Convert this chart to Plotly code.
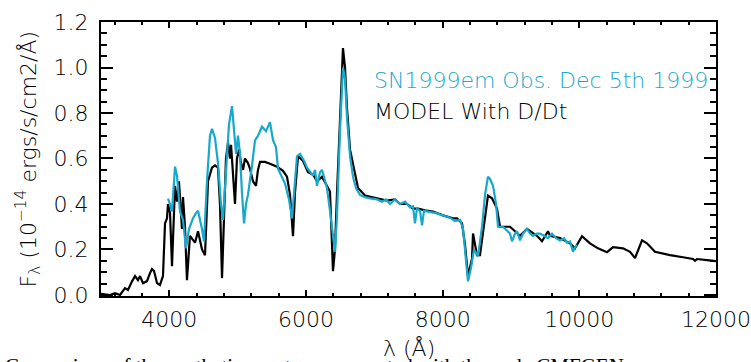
import plotly.graph_objects as go

# Model spectrum (black): wavelength (Angstrom) and flux (1e-14 erg/s/cm2/A)
model_wave = [3000, 3132, 3205, 3278, 3351, 3395, 3454, 3498, 3541, 3571, 3615, 3673, 3717, 3746,
              3776, 3820, 3863, 3907, 3937, 3966, 3980, 4010, 4039, 4083, 4112, 4141, 4185, 4200,
              4229, 4258, 4302, 4346, 4376, 4420, 4478, 4522, 4566, 4624, 4668, 4712, 4741, 4771,
              4800, 4829, 4859, 4888, 4903, 4932, 4961, 4990, 5020, 5049, 5078, 5107, 5151, 5180,
              5224, 5268, 5297, 5327, 5400, 5473, 5576, 5663, 5722, 5766, 5810, 5839, 5883, 5956,
              6029, 6102, 6161, 6234, 6307, 6351, 6395, 6424, 6454, 6497, 6541, 6571, 6600, 6644,
              6717, 6761, 6863, 7039, 7185, 7302, 7376, 7478, 7566, 7639, 7741, 7859, 8005, 8151,
              8210, 8283, 8327, 8371, 8430, 8444, 8473, 8502, 8546, 8620, 8663, 8722, 8795, 8839,
              8912, 8985, 9059, 9132, 9234, 9320, 9380, 9454, 9541, 9571, 9717, 9863, 9937, 10039,
              10156, 10273, 10405, 10493, 10639, 10742, 10815, 10917, 10990, 11107, 11327, 11517,
              11663, 11693, 11722, 11868, 12000]
model_flux = [0.005, 0.0, 0.008, 0.0, 0.03, 0.022, 0.06, 0.083, 0.065, 0.083, 0.052, 0.061, 0.096, 0.114,
              0.105, 0.052, 0.044, 0.083, 0.315, 0.337, 0.40, 0.36, 0.127, 0.48, 0.41, 0.50, 0.29, 0.43,
              0.30, 0.065, 0.26, 0.24, 0.23, 0.28, 0.20, 0.175, 0.50, 0.56, 0.57, 0.56, 0.40, 0.074,
              0.30, 0.60, 0.67, 0.60, 0.66, 0.52, 0.40, 0.60, 0.64, 0.58, 0.55, 0.60, 0.58, 0.555,
              0.50, 0.48, 0.55, 0.585, 0.585, 0.577, 0.564, 0.546, 0.52, 0.44, 0.258, 0.45, 0.61, 0.59,
              0.54, 0.53, 0.50, 0.52, 0.48, 0.455, 0.105, 0.20, 0.45, 0.80, 1.085, 1.00, 0.82, 0.64,
              0.525, 0.47, 0.437, 0.424, 0.415, 0.42, 0.40, 0.40, 0.38, 0.38, 0.372, 0.367, 0.35, 0.337,
              0.337, 0.315, 0.22, 0.083, 0.16, 0.27, 0.22, 0.175, 0.175, 0.35, 0.437, 0.425, 0.38, 0.30,
              0.30, 0.30, 0.28, 0.26, 0.29, 0.27, 0.26, 0.236, 0.28, 0.26, 0.25, 0.227, 0.205, 0.258,
              0.227, 0.205, 0.188, 0.21, 0.205, 0.19, 0.162, 0.24, 0.227, 0.19, 0.175, 0.166,
              0.158, 0.15, 0.158, 0.153, 0.149]

# Observed spectrum SN1999em, Dec 5th 1999 (cyan)
obs_wave = [3980, 4010, 4039, 4083, 4112, 4156, 4200, 4244, 4288, 4346, 4390, 4420, 4478, 4507,
            4551, 4595, 4624, 4668, 4712, 4756, 4785, 4829, 4873, 4917, 4946, 4976, 5005, 5034,
            5063, 5093, 5122, 5151, 5210, 5254, 5298, 5356, 5415, 5473, 5517, 5561, 5590, 5649,
            5693, 5751, 5795, 5839, 5868, 5912, 5971, 6015, 6059, 6102, 6132, 6161, 6205, 6234,
            6263, 6307, 6351, 6395, 6425, 6454, 6497, 6541, 6571, 6600, 6644, 6688, 6732, 6790,
            6863, 6937, 7039, 7112, 7171, 7229, 7302, 7376, 7449, 7522, 7566, 7595, 7624, 7668,
            7698, 7727, 7815, 7902, 8005, 8107, 8180, 8254, 8298, 8342, 8371, 8415, 8459, 8517,
            8576, 8620, 8663, 8693, 8737, 8781, 8810, 8883, 8942, 8985, 9015, 9059, 9088, 9132,
            9176, 9234, 9278, 9320, 9380, 9424, 9483, 9541, 9600, 9659, 9717, 9776, 9820, 9863,
            9907, 9937, 9966]
obs_flux = [0.424, 0.40, 0.367, 0.564, 0.525, 0.367, 0.33, 0.205, 0.29, 0.337, 0.36, 0.37, 0.29, 0.236,
            0.50, 0.70, 0.73, 0.69, 0.58, 0.40, 0.33, 0.55, 0.75, 0.83, 0.72, 0.62, 0.70, 0.62,
            0.45, 0.315, 0.40, 0.44, 0.57, 0.68, 0.70, 0.74, 0.72, 0.76, 0.68, 0.65, 0.555, 0.52,
            0.49, 0.42, 0.337, 0.50, 0.61, 0.62, 0.59, 0.56, 0.54, 0.525, 0.55, 0.48, 0.54, 0.55,
            0.52, 0.47, 0.37, 0.25, 0.19, 0.35, 0.72, 1.00, 0.95, 0.78, 0.61, 0.52, 0.47, 0.44,
            0.43, 0.425, 0.42, 0.41, 0.42, 0.40, 0.42, 0.40, 0.41, 0.385, 0.39, 0.315, 0.38, 0.37,
            0.306, 0.37, 0.365, 0.36, 0.35, 0.34, 0.325, 0.33, 0.29, 0.15, 0.06, 0.12, 0.20, 0.17,
            0.30, 0.44, 0.52, 0.51, 0.48, 0.40, 0.30, 0.30, 0.285, 0.27, 0.236, 0.27, 0.28, 0.24,
            0.27, 0.29, 0.27, 0.26, 0.27, 0.27, 0.26, 0.25, 0.27, 0.25, 0.24, 0.25, 0.23, 0.235,
            0.19, 0.21, 0.22]

x_ticks = [4000, 6000, 8000, 10000, 12000]
x_ticklabels = ["4000", "6000", "8000", "10000", "12000"]
y_ticks = [0.0, 0.2, 0.4, 0.6, 0.8, 1.0, 1.2]
y_ticklabels = ["0.0", "0.2", "0.4", "0.6", "0.8", "1.0", "1.2"]

CYAN = "#18a8cc"
FONT = "DejaVu Sans"
FS = 22

fig = go.Figure()
fig.add_trace(go.Scatter(x=model_wave, y=model_flux, mode="lines",
                         line=dict(color="black", width=2.2), showlegend=False))
fig.add_trace(go.Scatter(x=obs_wave, y=obs_flux, mode="lines",
                         line=dict(color=CYAN, width=2.2), showlegend=False))

axis_common = dict(showline=True, linecolor="black", linewidth=2, mirror="ticks",
                   ticks="inside", tickcolor="black", showgrid=False, zeroline=False,
                   automargin=False,
                   tickfont=dict(family=FONT, size=FS, color="black", weight=200))

fig.update_xaxes(range=[3000, 12000], tickvals=x_ticks, ticktext=x_ticklabels, ticklen=6,
                 tickwidth=1.5,
                 minor=dict(dtick=400, tick0=0, ticklen=3, tickwidth=1.5, ticks="inside",
                            tickcolor="black"),
                 ticklabelstandoff=3, **axis_common)
fig.update_yaxes(range=[-0.0045, 1.2], tickvals=y_ticks, ticktext=y_ticklabels, ticklen=12,
                 tickwidth=2, minor=dict(dtick=0.05, tick0=0, ticklen=6, tickwidth=1.5,
                                         ticks="inside", tickcolor="black"),
                 ticklabelstandoff=6, **axis_common)

fig.add_annotation(xref="paper", yref="paper", x=0.44, y=0.788, xanchor="left", yanchor="middle",
                   text="SN1999em Obs. Dec 5th 1999", showarrow=False,
                   font=dict(family=FONT, size=FS, color=CYAN, weight=200))
fig.add_annotation(xref="paper", yref="paper", x=0.44, y=0.672, xanchor="left", yanchor="middle",
                   text="MODEL With D/Dt", showarrow=False,
                   font=dict(family=FONT, size=FS, color="black", weight=200))

# Axis titles
fig.add_annotation(xref="paper", yref="paper", x=0.5, y=-0.19, xanchor="center", yanchor="middle",
                   text="λ (Å)", showarrow=False,
                   font=dict(family=FONT, size=FS, color="black", weight=200))
fig.add_annotation(xref="paper", yref="paper", x=-0.118, y=0.50, xanchor="center", yanchor="middle",
                   textangle=-90, text="F<sub>λ</sub> (10<sup>−14</sup> ergs/s/cm2/Å)",
                   showarrow=False, font=dict(family=FONT, size=FS, color="black", weight=200))

# Cropped caption line from the source page (bottom edge)
fig.add_annotation(xref="paper", yref="paper", x=-0.16, y=-0.205, xanchor="left", yanchor="top",
                   text="Comparison of the synthetic spectrum computed with the code CMFGEN",
                   showarrow=False,
                   font=dict(family="Liberation Serif", size=21, color="black"))

fig.update_layout(width=751, height=362, margin=dict(l=101, r=35, t=22, b=66),
                  paper_bgcolor="white", plot_bgcolor="white", showlegend=False)

fig.write_html("out.html")
